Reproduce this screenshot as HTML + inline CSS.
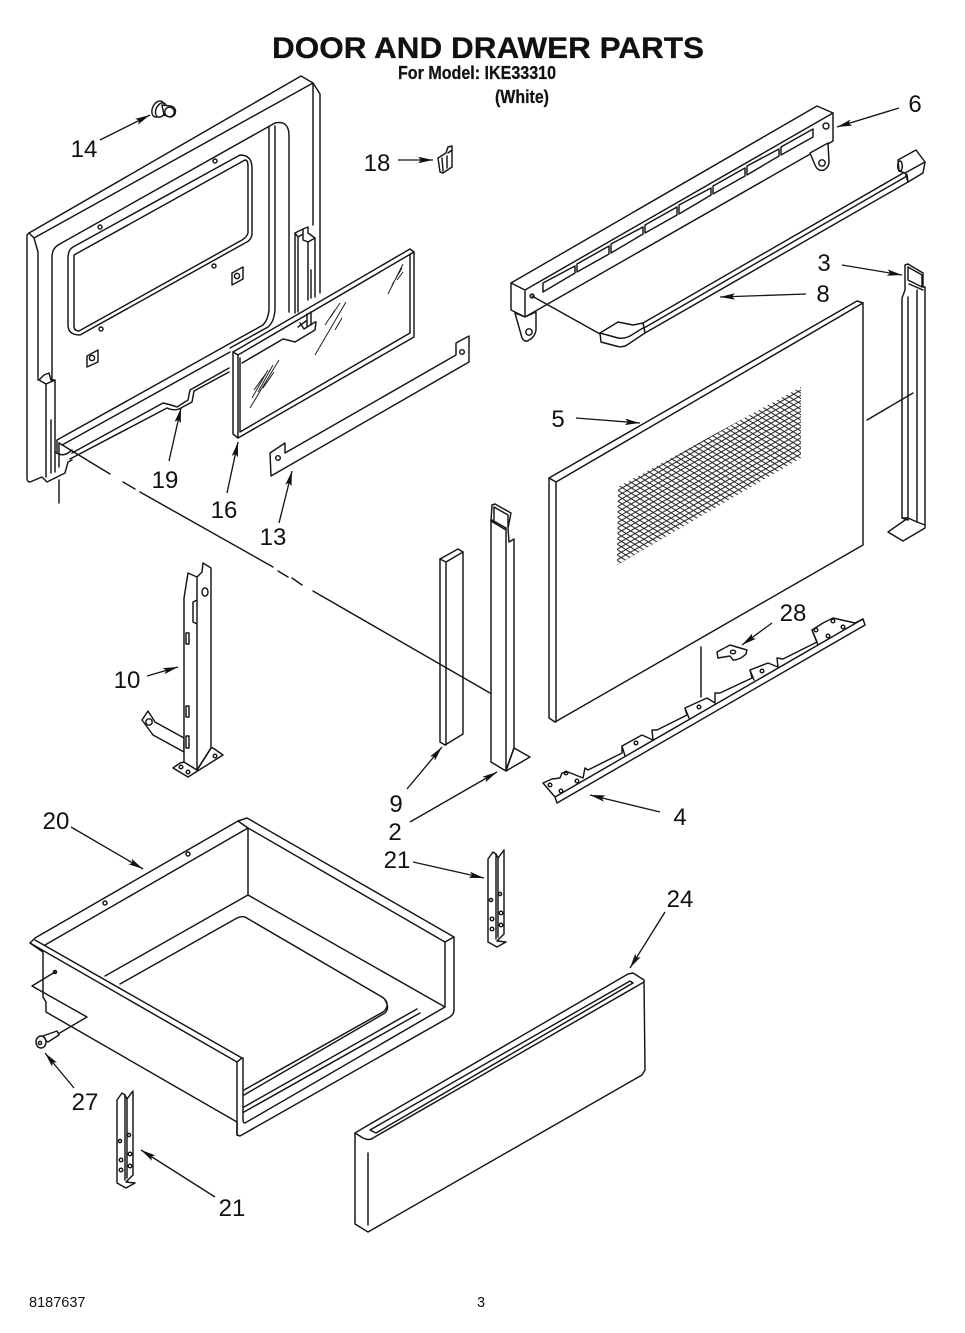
<!DOCTYPE html>
<html><head><meta charset="utf-8"><style>
html,body{margin:0;padding:0;background:#fff}
svg{display:block}
.l{fill:#fff;stroke:#151515;stroke-width:1.45;stroke-linejoin:round;stroke-linecap:round}
.n{fill:none;stroke:#151515;stroke-width:1.45;stroke-linejoin:round;stroke-linecap:round}
.t{fill:none;stroke:#222;stroke-width:1}
.a{fill:none;stroke:#151515;stroke-width:1.35;marker-end:url(#ah)}
text{font-family:"Liberation Sans",sans-serif;fill:#111}
.d{font-size:24px;text-anchor:middle}
.b{font-weight:700;stroke:#111;stroke-width:.25}
</style></head><body>
<svg width="965" height="1333" viewBox="0 0 965 1333" xmlns="http://www.w3.org/2000/svg">
<defs>
<marker id="ah" markerUnits="userSpaceOnUse" markerWidth="18" markerHeight="8" refX="15" refY="4" orient="auto"><path d="M0,.8 L15,4 L0,7.2 L3,4 Z" fill="#111"/></marker>
<pattern id="m1" width="8" height="4.6" patternUnits="userSpaceOnUse" patternTransform="rotate(-30 618 487)"><path d="M0,2.3H8" stroke="#222" stroke-width="1"/></pattern>
<pattern id="m2" width="8" height="4.6" patternUnits="userSpaceOnUse" patternTransform="rotate(32 618 487)"><path d="M0,2.3H8" stroke="#222" stroke-width="1"/></pattern>
<g id="br">
<path class="l" d="M117,1100 L122,1093 L125,1095 L127,1099 L133,1091 V1175 L126,1182 L135,1183 L126,1188 L117,1183 Z"/>
<path class="n" d="M125,1095 V1180 M127,1098 V1178"/>
<circle class="n" cx="120" cy="1141" r="1.6"/><circle class="n" cx="129" cy="1135" r="1.6"/><circle class="n" cx="121" cy="1160" r="1.8"/><circle class="n" cx="130" cy="1154" r="1.8"/><circle class="n" cx="121" cy="1170" r="1.8"/><circle class="n" cx="130" cy="1166" r="1.8"/>
</g>
</defs>
<rect width="965" height="1333" fill="#fff"/>

<!-- titles -->
<text class="b" x="272" y="58" font-size="30" textLength="432" lengthAdjust="spacingAndGlyphs">DOOR AND DRAWER PARTS</text>
<text class="b" x="398" y="79" font-size="18" textLength="158" lengthAdjust="spacingAndGlyphs">For Model: IKE33310</text>
<text class="b" x="495" y="103" font-size="18" textLength="54" lengthAdjust="spacingAndGlyphs">(White)</text>

<!-- door inner panel -->
<path class="n" d="M320,293 V94 L313,83 L301,76 L29,233 L27,235 V478 Q27,482 30,482 L42,477 L47,482 L65,473 L68,462 L72,460"/>
<path class="n" d="M34,238 L313,83 V225 M34,238 L38,252 V380 M29,233 L34,238"/>
<path class="n" d="M52,380 V257 Q52,249 58,245 L275,123 Q289,120 289,136 V312"/>
<path class="n" d="M269,127 V310 Q268,320 263,325 L57,440 V452 M275,126 V310 Q274,322 268,327 L230,348"/>
<path class="n" d="M73,247 L240,155 Q252,155 252,168 V233 Q252,240 245,243 L80,335 Q68,335 68,325 V258 Q68,250 73,247 Z"/>
<path class="n" d="M74,255 L245,160 Q248,160 248,166 V233 Q247,237 242,240 L79,331 Q74,331 74,326 Z"/>
<circle class="n" cx="100" cy="227" r="2"/><circle class="n" cx="215" cy="161" r="2"/><circle class="n" cx="214" cy="266" r="2"/><circle class="n" cx="101" cy="329" r="2"/>
<path class="n" d="M232,273 L243,267 V279 L232,285 Z M87,356 L98,350 V362 L87,367 Z"/>
<circle class="n" cx="237" cy="276" r="2.6"/><circle class="n" cx="92" cy="358" r="2.6"/>
<path class="n" d="M295,313 V233 L303,229 L308,227 V233 L315,238 V297 M308,242 L315,238 M303,229 V240 L308,242 V300 M298,237 V312 M311,270 V298 M295,233 L298,237 L303,234"/>
<path class="n" d="M39,380 L44,375 L49,373 L51,380 L55,380 L46,384 L39,380 M55,380 V472 M46,384 V477 M51,420 V473"/>
<path class="n" d="M62,445 L230,352 M72,453 L163,403 Q172,405 177,407 L188,400 L190,390 L229,368 M70,459 L167,408 Q174,411 179,409 L192,402 L194,391 L229,372 M55,452 Q62,457 68,453 L72,450"/>
<path class="n" d="M59,443 V467 M59,480 V503"/>

<!-- glass 16 -->
<path class="l" d="M233,352 L410,249 L414,252 V337 L238,438 L233,434 Z"/>
<path class="n" d="M238,355 L414,252 M238,355 V438 M238,355 L233,352 M242,363 L283,339 Q288,340 295,342 L315,330 L316,322 M410,254 V333 L240,432 V358"/>
<path class="n" d="M300,323 L304,329 L315,322 M307,314 V326 M311,312 V325 M298,327 L306,321"/>
<path class="t" d="M250,408 L279,360 M252,398 L268,370 M254,390 L267,372 M258,392 L273,365 M263,388 L274,372 M315,355 L346,302 M325,325 L335,310 M330,318 L340,303 M332,326 L343,307 M335,330 L342,318 M388,294 L403,264 M392,285 L402,268 M397,280 L403,272"/>

<!-- strip 13 -->
<path class="l" d="M270,453 L285,443 V453 L456,355 V343 L469,336 V362 L271,476 Z"/>
<circle class="n" cx="278" cy="458" r="2.3"/><circle class="n" cx="462" cy="352" r="2.3"/>

<!-- knob 14 -->
<ellipse class="l" cx="158" cy="109" rx="5.5" ry="8.5" transform="rotate(25 158 109)"/>
<ellipse class="l" cx="161" cy="110" rx="5" ry="7.5" transform="rotate(25 161 110)"/>
<path class="l" d="M162,105 L170,106 A5,5 0 0 1 170,117 L164,115 Z"/>
<circle class="l" cx="169.500" cy="112" r="4.800"/>

<!-- clip 18 -->
<path class="l" d="M438,158 L446,153 L448,147 L452,146 L452,167 L443,173 L440,172 Z"/>
<path class="n" d="M442,158 L443,171 M447,156 V168 M448,153 L452,150"/>

<!-- top bar 6 -->
<path class="l" d="M511,283 L817,106 L833,113 V141 L525,317 L511,310 Z"/>
<path class="n" d="M511,283 L525,290 L833,113 M525,290 V317"/>
<path class="n" d="M543,283 L575,266 V273 L543,292 Z M577,264 L609,246 V254 L577,272 Z M611,244 L643,227 V234 L611,253 Z M645,225 L677,207 V215 L645,233 Z M679,205 L711,188 V195 L679,214 Z M713,186 L745,168 V176 L713,194 Z M747,166 L779,149 V156 L747,175 Z M781,147 L813,129 V137 L781,155 Z"/>
<circle class="n" cx="826" cy="126" r="3"/><circle class="n" cx="532" cy="296" r="2"/>
<path class="l" d="M515,313 L522,338 Q525,343 529,340 Q535,337 536,330 V312 L525,317 Z"/><circle class="n" cx="529" cy="332" r="3.2"/>
<path class="l" d="M810,153 L815,165 Q818,172 824,170 Q829,167 829,162 L828,143 Z"/><circle class="n" cx="822" cy="163" r="3.2"/>
<path class="n" d="M532,296 L600,334"/>

<!-- handle 8 -->
<path class="l" d="M643,323 L905,172 L908,182 L645,333 Z"/>
<path class="n" d="M644,328 L907,176"/>
<path class="l" d="M600,333 L618,322 L633,325 L643,323 L645,333 L627,345 Q622,348 616,346 L601,342 Z"/>
<path class="n" d="M600,333 L618,338 Q624,339 630,336 L643,328"/>
<path class="l" d="M898,160 L916,150 L925,162 L923,173 L908,182 L907,175 L905,173 L899,171 Z"/>
<path class="n" d="M905,173 L925,162 M907,175 V178"/>
<ellipse class="n" cx="900" cy="166" rx="2.300" ry="5"/>

<!-- part 3 -->
<path class="l" d="M888,532 L908,518 L902,518 V298 L905,290 V265 L908,264 L923,273 V287 L925,287 V525 L925,528 L903,541 Z"/>
<path class="n" d="M908,267 V280 L922,287 V275 L908,267 M909,284 L923,290 M908,297 V520 M917,290 V522 L925,525 M908,518 L917,522 M902,518 L908,520"/>

<!-- part 5 door -->
<path class="l" d="M549,478 L857,301 L863,303 V545 L555,722 L549,718 Z"/>
<path class="n" d="M556,482 L863,303 M556,482 V722 M549,478 L556,482"/>
<polygon points="618,487 801,387 801,458 617,565" fill="url(#m1)"/>
<polygon points="618,487 801,387 801,458 617,565" fill="url(#m2)"/>
<path class="n" d="M867,420 L913,393"/>
<path class="n" d="M701,647 V697"/>

<!-- part 28 -->
<path class="l" d="M717,652 L730,645 L747,650 L746,654 Q740,660 733,660 L730,656 L718,658 Z"/>
<ellipse class="n" cx="733" cy="652" rx="2.6" ry="1.8"/>

<!-- part 4 -->
<path class="l" d="M543,783 L552,779 L560,778 L562,773 L568,772 L583,778 L585,768 L588,770 L622,753 L622,746 L642,735 L653,740 L652,730 L657,730 L687,715 L685,708 L707,698 L715,703 L715,693 L720,693 L752,678 L750,670 L768,663 L778,667 L777,658 L783,659 L817,642 L812,630 L823,623 L833,618 L855,623 L863,619 L865,625 L557,803 L555,797 Z"/>
<path class="n" d="M555,797 L863,619"/>
<circle class="n" cx="550" cy="785" r="1.8"/><circle class="n" cx="561" cy="791" r="1.8"/><circle class="n" cx="577" cy="781" r="1.8"/><circle class="n" cx="566" cy="773" r="1.8"/><circle class="n" cx="636" cy="743" r="1.8"/><circle class="n" cx="699" cy="707" r="1.8"/><circle class="n" cx="762" cy="671" r="1.8"/><circle class="n" cx="816" cy="630" r="1.8"/><circle class="n" cx="828" cy="636" r="1.8"/><circle class="n" cx="843" cy="627" r="1.8"/><circle class="n" cx="833" cy="621" r="1.8"/>
<path class="n" d="M622,746 L625,756 M685,708 L689,718 M750,670 L754,680 M812,630 L818,645"/>

<!-- part 10 -->
<path class="l" d="M142,720 L148,711 L155,722 L184,738 V752 L153,735 Z"/>
<circle class="n" cx="149" cy="722" r="3.2"/>
<path class="l" d="M173,768 L180,763 L184,762 L197,770 L211,748 L213,748 L223,755 L188,777 Z"/>
<path class="l" d="M188,573 L197,577 L202,572 L203,563 L211,568 V748 L197,770 L184,762 V598 Z"/>
<path class="n" d="M197,577 V770 M193,602 L197,600 M193,602 V622 L197,624 M211,748 L197,770"/>
<ellipse class="n" cx="205" cy="592" rx="3" ry="4.2"/>
<path class="n" d="M186,633 H189 V644 H186 Z M186,706 H189 V717 H186 Z M186,736 H189 V748 H186 Z"/>
<circle class="n" cx="181" cy="767" r="1.8"/><circle class="n" cx="188" cy="772" r="1.8"/><circle class="n" cx="215" cy="756" r="1.8"/>

<!-- part 2 -->
<path class="l" d="M506,771 L530,757 L514,748 L506,760 Z"/>
<path class="l" d="M491,521 L492,505 L495,504 L511,513 L508,528 L509,542 L514,539 V748 L506,771 L491,762 Z"/>
<path class="n" d="M492,520 L506,528 M491,521 L506,530 M506,528 V771 M494,507 L508,515 V527 M494,507 V520 M506,770 L514,748"/>

<!-- part 9 -->
<path class="l" d="M440,559 L458,549 L463,552 V734 L445,745 L440,742 Z"/>
<path class="n" d="M440,559 L446,562 L463,552 M446,562 V745"/>

<!-- long dashed leader -->
<path class="n" d="M59,443 L110,474 M123,482 L135,489 M140,492 L273,567 M278,571 L288,577 M292,578 L302,585 M313,591 L490,693"/>

<!-- drawer -->
<path class="l" d="M30,943 L35,938 L238,821 L247,818 L454,937 V1010 Q454,1015 448,1018 L240,1136 L237,1135 V1122 L46,1012 V1002 L43,997 V952 Z"/>
<path class="n" d="M45,945 L248,828 L445,942 M238,821 L248,828 M248,828 V895 L445,1007 M248,895 L105,976 M445,942 V1007 L245,1123 Q243,1123 243,1120 V1058 M454,937 L445,942"/>
<path class="n" d="M30,943 L237,1062 V1135 M35,940 L242,1058 L237,1062"/>
<path class="n" d="M120,984 L237,918 Q241,916 245,917 L382,997 Q388,1001 387,1006 Q386,1010 383,1012 L244,1090 M385,1000 Q390,1008 385,1013 L244,1095 M417,1009 L244,1107 M420,1013 L244,1112"/>
<circle class="n" cx="188" cy="854" r="2"/><circle class="n" cx="105" cy="903" r="2"/><circle class="n" cx="55" cy="972" r="1.5"/>
<path class="n" d="M32,986 L55,972 M32,986 L87,1017 L58,1034"/>
<path class="l" d="M40,1037 L57,1031 L59,1035 L48,1042 Z"/>
<ellipse class="l" cx="41" cy="1042" rx="5" ry="6"/><circle class="n" cx="40" cy="1043" r="1.6"/>

<use href="#br"/><use href="#br" x="371" y="-241"/>

<!-- panel 24 -->
<path class="l" d="M355,1133 L365,1127 L628,974 L633,973 L644,980 L645,1070 L642,1075 L368,1232 L355,1224 Z"/>
<path class="n" d="M355,1133 L363,1138 Q369,1141 373,1138 L644,982 M370,1130 L630,981 L633,983 L376,1133 Z M368,1153 V1225"/>

<!-- arrows -->
<path class="a" d="M100,140 L150,115"/>
<path class="a" d="M398,160 L433,160"/>
<path class="a" d="M899,108 L837,127"/>
<path class="a" d="M842,265 L902,275"/>
<path class="a" d="M806,294 L720,297"/>
<path class="a" d="M576,418 L640,423"/>
<path class="a" d="M169,461 L181,408"/>
<path class="a" d="M227,493 L238,442"/>
<path class="a" d="M279,523 L292,471"/>
<path class="a" d="M147,676 L178,667"/>
<path class="a" d="M407,789 L442,747"/>
<path class="a" d="M410,822 L497,772"/>
<path class="a" d="M71,827 L143,869"/>
<path class="a" d="M413,862 L484,878"/>
<path class="a" d="M74,1088 L45,1053"/>
<path class="a" d="M215,1197 L141,1150"/>
<path class="a" d="M665,912 L630,968"/>
<path class="a" d="M772,623 L742,645"/>
<path class="a" d="M660,812 L590,795"/>

<!-- labels -->
<text class="d" x="84" y="157">14</text>
<text class="d" x="377" y="171">18</text>
<text class="d" x="915" y="112">6</text>
<text class="d" x="824" y="271">3</text>
<text class="d" x="823" y="302">8</text>
<text class="d" x="558" y="427">5</text>
<text class="d" x="165" y="488">19</text>
<text class="d" x="224" y="518">16</text>
<text class="d" x="273" y="545">13</text>
<text class="d" x="127" y="688">10</text>
<text class="d" x="396" y="812">9</text>
<text class="d" x="395" y="840">2</text>
<text class="d" x="56" y="829">20</text>
<text class="d" x="397" y="868">21</text>
<text class="d" x="680" y="907">24</text>
<text class="d" x="793" y="621">28</text>
<text class="d" x="680" y="825">4</text>
<text class="d" x="85" y="1110">27</text>
<text class="d" x="232" y="1216">21</text>
<text x="29" y="1307" font-size="14.5">8187637</text>
<text x="477" y="1307" font-size="14.5">3</text>
</svg>
</body></html>
